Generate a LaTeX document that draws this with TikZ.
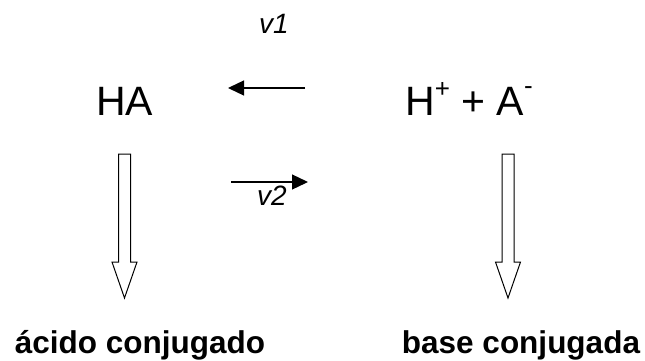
\documentclass[tikz,border=0pt]{standalone}
\usepackage{fontspec}
\setmainfont{Liberation Sans}
\usetikzlibrary{arrows.meta}
\begin{document}
\begin{tikzpicture}[x=1pt,y=1pt,
  big/.style={inner sep=0pt,anchor=base west,font=\fontsize{41}{41}\selectfont},
  rate/.style={inner sep=0pt,anchor=base west,font=\fontsize{28}{28}\selectfont\itshape},
  lbl/.style={inner sep=0pt,anchor=base,font=\fontsize{31.5}{31.5}\selectfont\bfseries},
  thin arrow/.style={line width=1.3pt,-{Triangle[length=16pt,width=15pt]}},
  hollow/.style={line width=1pt,draw=black,fill=white,line join=miter}
]
\useasboundingbox (0,0) rectangle (645,360);
\node[big] (ha) at (96,245) {HA};
\node[big] (ions) at (405,245) {H\raisebox{0.42em}{\fontsize{26}{26}\selectfont +} + A\raisebox{0.5em}{\fontsize{26}{26}\selectfont -}};
\node[rate] (v1) at (259,327) {v1};
\node[rate] (v2) at (257,155) {v2};
\coordinate (v1s) at (305,272);
\coordinate (v1e) at (228,272);
\coordinate (v2s) at (231,178);
\coordinate (v2e) at (308,178);
\draw[thin arrow] (v1s) -- (v1e);
\draw[thin arrow] (v2s) -- (v2e);
\node[lbl] (acid) at (140,7) {ácido conjugado};
\node[lbl] (base) at (521,7) {base conjugada};
% hollow arrows
\coordinate (la) at (124.5,206);
\coordinate (ra) at (508,206);
\foreach \c in {la,ra}{
  \draw[hollow] ([xshift=-6pt]\c) -- ([xshift=6pt]\c) -- ([xshift=6pt,yshift=-108pt]\c)
    -- ([xshift=12.5pt,yshift=-108pt]\c) -- ([yshift=-144pt]\c)
    -- ([xshift=-12.5pt,yshift=-108pt]\c) -- ([xshift=-6pt,yshift=-108pt]\c) -- cycle;
}
\end{tikzpicture}
\end{document}
